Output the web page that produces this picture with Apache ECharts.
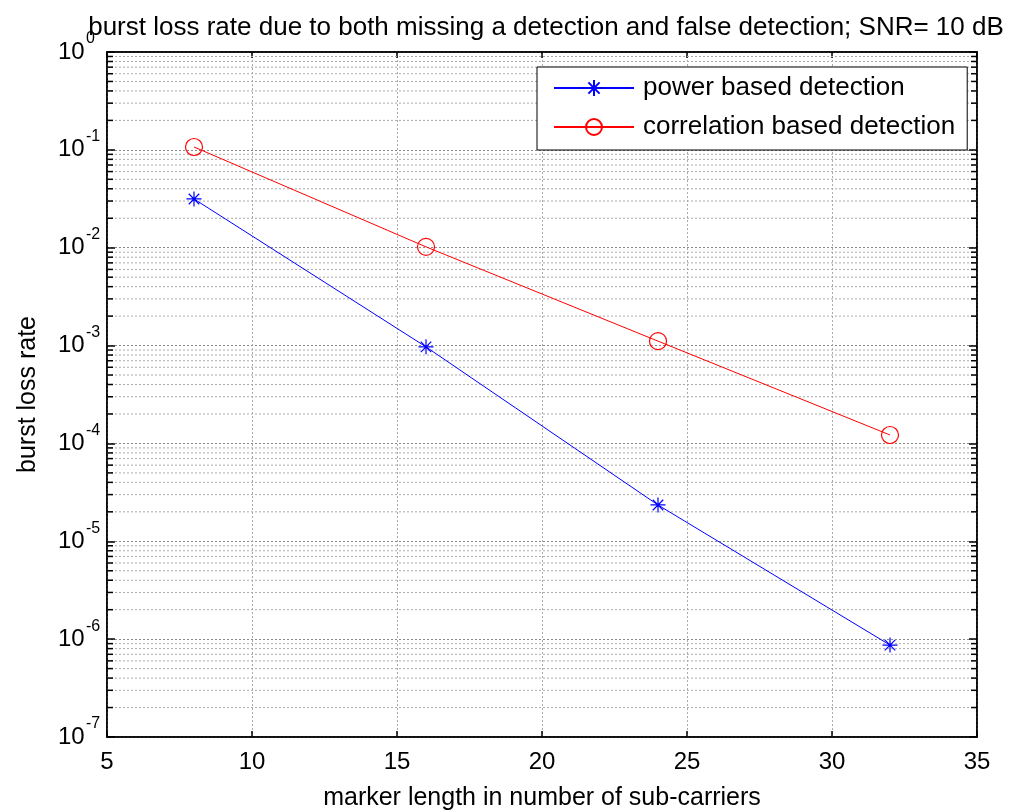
<!DOCTYPE html>
<html>
<head>
<meta charset="utf-8">
<script src="https://cdn.jsdelivr.net/npm/echarts@6/dist/echarts.min.js"></script>
<style>
	html, body { margin: 0; padding: 0; background: #fff; }
	#chart { width: 1009px; height: 810px; }
</style>
</head>
<body>
<div id="chart"></div>
<script>
	// marker length (x) and burst loss rates
	var markerLen = [8, 16, 24, 32];
	var powerRate = [0.0315, 9.7e-4, 2.35e-5, 8.7e-7];
	var corrRate = [0.107, 0.0102, 1.11e-3, 1.22e-4];
	var seriesNames = ['power based detection', 'correlation based detection'];

	// minor log grid values 2..9 x 10^k
	var minorVals = [];
	for (var k = -7; k < 0; k++) {
		for (var m = 2; m <= 9; m++) {
			minorVals.push([5, m * Math.pow(10, k)]);
		}
	}

	var font = 'Liberation Sans, Arial, sans-serif';
	var chart = echarts.init(document.getElementById('chart'));

	function pairs(ys) {
		var out = [];
		for (var i = 0; i < markerLen.length; i++) {
			out.push([markerLen[i], ys[i]]);
		}
		return out;
	}

	function expOf(v) {
		return Math.round(Math.log(v) / Math.LN10);
	}

	var gridDash = { color: '#aaa', type: [2, 2], width: 1 };
	var axisBlack = { lineStyle: { color: '#000', width: 1.5 } };
	var tickBlack = { inside: true, length: 8, lineStyle: { color: '#000', width: 1.5 } };

	var option = {
		animation: false,
		backgroundColor: '#fff',
		title: {
			text: 'burst loss rate due to both missing a detection and false detection; SNR= 10 dB',
			left: 541,
			top: 10,
			textAlign: 'center',
			textStyle: { fontSize: 26, fontWeight: 'normal', fontFamily: font, color: '#000' }
		},
		legend: {
			left: 537,
			top: 67,
			orient: 'vertical',
			data: seriesNames,
			backgroundColor: '#fff',
			borderColor: '#000',
			borderWidth: 1,
			borderRadius: 0,
			padding: [6, 12, 8, 16],
			itemGap: 9,
			itemWidth: 80,
			itemHeight: 20,
			textStyle: { fontSize: 26, lineHeight: 30, fontFamily: font, color: '#000', padding: [0, 0, 0, 4] }
		},
		grid: {
			left: 107,
			top: 52,
			right: 32,
			bottom: 73,
			outerBoundsMode: 'none',
			containLabel: false,
			show: true,
			borderColor: '#000',
			borderWidth: 1.5
		},
		xAxis: [{
			type: 'value',
			min: 5,
			max: 35,
			interval: 5,
			name: 'marker length in number of sub-carriers',
			nameLocation: 'middle',
			nameGap: 49,
			nameTextStyle: { fontSize: 25, fontFamily: font, color: '#000' },
			axisLine: axisBlack,
			axisTick: { inside: true, length: 6, lineStyle: { color: '#000', width: 1.5 } },
			axisLabel: { fontSize: 24, fontFamily: font, color: '#000', margin: 13 },
			splitLine: { show: true, lineStyle: gridDash }
		}, {
			type: 'value',
			position: 'top',
			min: 5,
			max: 35,
			interval: 5,
			axisLine: axisBlack,
			axisTick: { inside: true, length: 6, lineStyle: { color: '#000', width: 1.5 } },
			axisLabel: { show: false },
			splitLine: { show: false }
		}],
		yAxis: [{
			type: 'log',
			logBase: 10,
			min: 1e-7,
			max: 1,
			interval: 1,
			name: 'burst loss rate',
			nameLocation: 'middle',
			nameGap: 66,
			nameRotate: 90,
			nameTextStyle: { fontSize: 25, fontFamily: font, color: '#000' },
			axisLine: axisBlack,
			axisTick: tickBlack,
			axisLabel: {
				formatter: function () { return '10'; },
				fontSize: 24, fontFamily: font, color: '#000', margin: 49, align: 'left'
			},
			splitLine: { show: true, lineStyle: { color: '#888', type: [2, 2], width: 1 } }
		}, {
			type: 'log',
			logBase: 10,
			min: 1e-7,
			max: 1,
			interval: 1,
			position: 'right',
			axisLine: axisBlack,
			axisTick: tickBlack,
			axisLabel: { show: false },
			splitLine: { show: false }
		}, {
			// exponents of the decade labels, raised as superscripts
			type: 'log',
			logBase: 10,
			min: 1e-7,
			max: 1,
			interval: 1,
			position: 'left',
			axisLine: { show: false },
			axisTick: { show: false },
			splitLine: { show: false },
			axisLabel: {
				formatter: function (v) { return String(expOf(v)); },
				fontSize: 16, fontFamily: font, color: '#000', margin: 21, align: 'left',
				verticalAlign: 'bottom', lineHeight: 26
			}
		}],
		series: [
			{
				// minor log grid and ticks on both sides
				type: 'custom',
				silent: true,
				z: 1,
				data: minorVals,
				renderItem: function (params, api) {
					var v = api.value(1);
					var l = api.coord([5, v]);
					var r = api.coord([35, v]);
					return {
						type: 'group',
						children: [{
							type: 'line',
							shape: { x1: l[0], y1: l[1], x2: r[0], y2: r[1] },
							style: { stroke: '#aaa', lineWidth: 1, lineDash: [2, 2] }
						}, {
							type: 'line',
							shape: { x1: l[0], y1: l[1], x2: l[0] + 6, y2: l[1] },
							style: { stroke: '#000', lineWidth: 1.5 }
						}, {
							type: 'line',
							shape: { x1: r[0] - 6, y1: r[1], x2: r[0], y2: r[1] },
							style: { stroke: '#000', lineWidth: 1.5 }
						}]
					};
				}
			},
			{
				name: seriesNames[0],
				type: 'line',
				z: 3,
				data: pairs(powerRate),
				symbol: 'path://M5,0L5,10M0,5L10,5M1.5,1.5L8.5,8.5M1.5,8.5L8.5,1.5',
				symbolSize: 15,
				lineStyle: { color: '#0000ff', width: 1 },
				itemStyle: { color: '#0000ff', borderColor: '#0000ff', borderWidth: 1.2 }
			},
			{
				name: seriesNames[1],
				type: 'line',
				z: 3,
				data: pairs(corrRate),
				symbol: 'circle',
				symbolSize: 17,
				lineStyle: { color: '#ff0000', width: 1 },
				itemStyle: { color: 'rgba(255,255,255,0)', borderColor: '#ff0000', borderWidth: 1.2 }
			}
		]
	};

	chart.setOption(option);
</script>
</body>
</html>
